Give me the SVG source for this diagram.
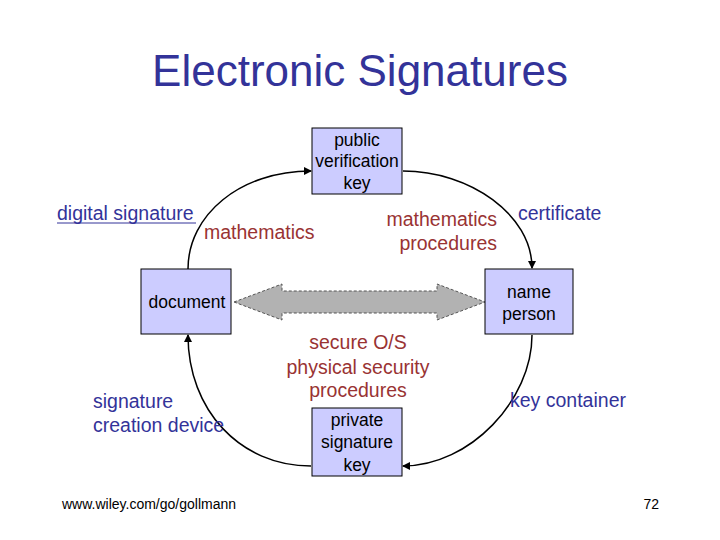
<svg xmlns="http://www.w3.org/2000/svg" width="720" height="540" viewBox="0 0 720 540">
<defs>
<marker id="ah" markerWidth="8" markerHeight="8" refX="7" refY="4" orient="auto" markerUnits="userSpaceOnUse"><path d="M0,0 L8,4 L0,8 z" fill="#000"/></marker>
<style>
text{font-family:"Liberation Sans",Arial,sans-serif}
.box{fill:#ccccff;stroke:#000;stroke-width:1}
.bt{font-size:17.5px;fill:#000;text-anchor:middle}
.blue{font-size:19.5px;fill:#333399}
.red{font-size:19.5px;fill:#993333}
.arc{fill:none;stroke:#000;stroke-width:1.5;marker-end:url(#ah)}
</style>
</defs>
<rect width="720" height="540" fill="#fff"/>
<text x="360" y="86" font-size="44" fill="#333399" text-anchor="middle">Electronic Signatures</text>
<g id="connectors">
<path class="arc" d="M188,269 C188,215 240,171 311,171"/>
<path class="arc" d="M403,171 C470,171 532,215 532,268"/>
<path class="arc" d="M532,335 C532,400 470,466 403,466"/>
<path class="arc" d="M311,466 C240,466 188,410 188,335"/>
<path d="M234,302 L282,284 L282,291 L437,291 L437,284 L485,302 L437,320 L437,313 L282,313 L282,320 Z" fill="#b2b2b2" stroke="#555" stroke-width="1" stroke-dasharray="3,2"/>
</g>
<g id="public"><rect class="box" x="312" y="128" width="90" height="66"/>
<text class="bt" x="357" y="146">public</text><text class="bt" x="357" y="167">verification</text><text class="bt" x="357" y="189">key</text></g>
<g id="document"><rect class="box" x="141" y="269" width="90" height="65"/>
<text class="bt" x="187" y="308">document</text></g>
<g id="name"><rect class="box" x="485" y="269" width="88" height="65"/>
<text class="bt" x="529" y="298">name</text><text class="bt" x="529" y="320">person</text></g>
<g id="private"><rect class="box" x="312" y="408" width="90" height="68"/>
<text class="bt" x="357" y="426">private</text><text class="bt" x="357" y="448">signature</text><text class="bt" x="357" y="471">key</text></g>
<g id="labels">
<text class="blue" x="57" y="220">digital signature</text>
<line x1="57" y1="223" x2="196" y2="223" stroke="#333399" stroke-width="1"/>
<text class="red" x="204" y="239">mathematics</text>
<text class="red" x="497" y="226" text-anchor="end">mathematics</text>
<text class="red" x="497" y="250" text-anchor="end">procedures</text>
<text class="blue" x="518" y="220">certificate</text>
<text class="red" x="358" y="349" text-anchor="middle">secure O/S</text>
<text class="red" x="358" y="374" text-anchor="middle">physical security</text>
<text class="red" x="358" y="397" text-anchor="middle">procedures</text>
<text class="blue" x="93" y="408">signature</text>
<text class="blue" x="93" y="432">creation device</text>
<text class="blue" x="510" y="407">key container</text>
<text x="62" y="509" font-size="14" fill="#000">www.wiley.com/go/gollmann</text>
<text x="659" y="509" font-size="14" fill="#000" text-anchor="end">72</text>
</g>
</svg>
